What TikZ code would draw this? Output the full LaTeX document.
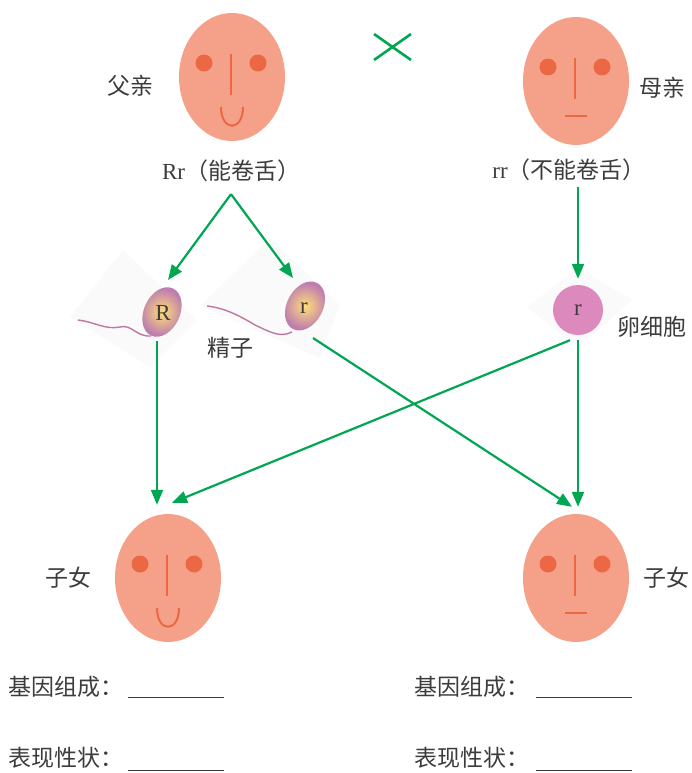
\documentclass[tikz,border=0pt]{standalone}
\usepackage{fontspec}
\setmainfont{Liberation Serif}
\newfontfamily\cjk{Noto Sans CJK SC}
\usepackage{tikz}
\usetikzlibrary{arrows.meta,positioning,shapes.geometric,calc}

\definecolor{skin}{RGB}{245,160,136}
\definecolor{feature}{RGB}{236,104,68}
\definecolor{arrowgreen}{RGB}{0,166,81}
\definecolor{eggpink}{RGB}{220,138,190}
\definecolor{headrim}{RGB}{190,125,175}
\definecolor{headcore}{RGB}{255,222,120}
\definecolor{tailpink}{RGB}{190,120,160}
\definecolor{labelgray}{RGB}{60,60,60}

\begin{document}
\begin{tikzpicture}[
    x=1pt, y=-1pt,
    face/.style={
        ellipse,
        fill=skin,
        minimum width=106pt,
        minimum height=128pt,
        inner sep=0pt
    },
    feat/.style={draw=feature, line width=2pt},
    label/.style={font=\cjk\fontsize{23}{26}\selectfont, text=labelgray, inner sep=0pt},
    allele/.style={font=\fontsize{23}{26}\selectfont, text=labelgray, inner sep=0pt},
    line/.style={-{Triangle[length=15pt,width=12pt]}, draw=arrowgreen, line width=2.2pt},
    blank/.style={draw=labelgray, line width=1pt},
    backdrop/.style={fill=black!2},
    head/.style={inner color=headcore, outer color=headrim},
    tail/.style={draw=tailpink, line width=1.4pt}
]
\useasboundingbox (0,0) rectangle (692,773);

% ---- Faint backdrops of the cells ----
\fill[backdrop] (123,250) -- (197,320) -- (150,367) -- (70,317) -- cycle;
\fill[backdrop] (270,238) -- (340,305) -- (320,358) -- (200,306) -- cycle;
\fill[backdrop] (578,268) -- (632,300) -- (578,348) -- (527,307) -- cycle;

% ---- Faces ----
\node[face] (father) at (232,77) {};
\node[face] (mother) at (576,81) {};
\node[face] (child1) at (168,578) {};
\node[face] (child2) at (576,578) {};

\foreach \f in {father,mother,child1,child2} {
    \fill[feature] ($(\f)+(-28,-14)$) circle [radius=8.5pt];
    \fill[feature] ($(\f)+(26,-14)$) circle [radius=8.5pt];
    \draw[feat] ($(\f)+(-1,-23)$) -- ($(\f)+(-1,18)$);
}

% smiling mouths (can roll the tongue)
\foreach \f in {father,child1} {
    \draw[feat] ($(\f)+(-11,30)$) .. controls ($(\f)+(-11,55)$) and ($(\f)+(11,55)$) .. ($(\f)+(11,30)$);
}
% flat mouths
\foreach \f in {mother,child2} {
    \draw[feat] ($(\f)+(-11,35)$) -- ($(\f)+(11,35)$);
}

% ---- Cross sign ----
\draw[arrowgreen, line width=2.6pt] (374,34) -- (411,60) (374,60) -- (411,34);

% ---- Parent labels ----
\node[label] (fatherlbl) at (130,86) {父亲};
\node[label] (motherlbl) at (662,88) {母亲};
\node[label] (fgeno) at (231,171) {{\rmfamily Rr}（能卷舌）};
\node[label] (mgeno) at (569,170) {{\rmfamily rr}（不能卷舌）};

% ---- Sperm cells (heads lean to the right) ----
\shade[head, shift={(162,312)}, rotate=-25] (0,0) ellipse [x radius=18pt, y radius=26pt];
\shade[head, shift={(305,306)}, rotate=-28] (0,0) ellipse [x radius=18pt, y radius=26pt];
\draw[tail] (151,336) .. controls (136,337) and (132,324) .. (120,327)
    .. controls (105,330) and (95,322) .. (78,320);
\draw[tail] (292,332) .. controls (280,338) and (270,332) .. (255,325)
    .. controls (240,316) and (225,308) .. (207,306);
\node[allele] (spermR) at (163,313) {R};
\node[allele] (spermr) at (304,308) {r};
\node[label] (spermlbl) at (230,348) {精子};

% ---- Egg cell ----
\node[circle, fill=eggpink, minimum size=50pt, inner sep=0pt,
      font=\fontsize{23}{26}\selectfont, text=labelgray] (egg) at (578,310) {r};
\node[label] (egglbl) at (652,327) {卵细胞};

% ---- Children labels ----
\node[label] (child1lbl) at (68,578) {子女};
\node[label] (child2lbl) at (666,578) {子女};

% ---- Connections ----
\coordinate[below=12pt of fgeno] (fork);
\draw[line] (fork) -- (168,280);
\draw[line] (fork) -- (293,278);
\draw[line] ([yshift=-6pt]egg.north |- mgeno.south) -- ([yshift=6pt]egg.north);

\draw[line] ([xshift=-6pt,yshift=-28pt]spermR.center) -- ([xshift=-11pt,yshift=9pt]child1.north);
\draw[line] ([xshift=9pt,yshift=-30pt]spermr.center) -- ([xshift=-4pt,yshift=7pt]child2.north);
\draw[line] ([xshift=-8pt,yshift=-5pt]egg.south) -- ([xshift=4pt,yshift=11pt]child1.north);
\draw[line] ([yshift=-5pt]egg.south) -- ([xshift=2pt,yshift=7pt]child2.north);

% ---- Answer blanks ----
\node[label, anchor=west] (gene1) at (8,687) {基因组成：};
\node[label, anchor=west] (trait1) at (8,758) {表现性状：};
\node[label, anchor=west] (gene2) at (414,687) {基因组成：};
\node[label, anchor=west] (trait2) at (414,758) {表现性状：};
\draw[blank] (128,697) -- (224,697);
\draw[blank] (128,770) -- (224,770);
\draw[blank] (536,697) -- (632,697);
\draw[blank] (536,770) -- (632,770);

\end{tikzpicture}
\end{document}
